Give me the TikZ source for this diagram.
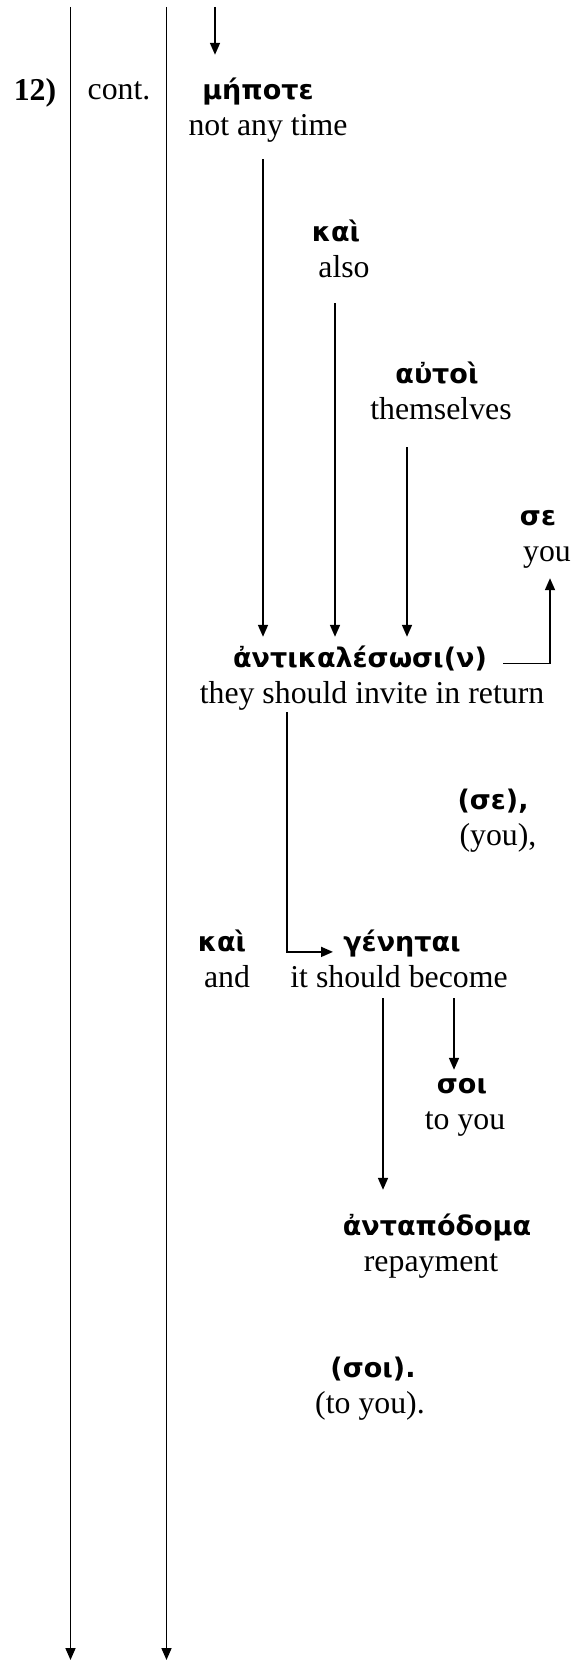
\documentclass[tikz,border=0pt]{standalone}
\usepackage{fontspec}
\setmainfont{Liberation Serif}
\newfontfamily\grk{DejaVu Sans}
\usetikzlibrary{arrows.meta}
\begin{document}
\begin{tikzpicture}[x=1pt,y=1pt,
  en/.style={font=\fontsize{31.8}{36}\selectfont, inner sep=0pt, text height=22pt, text depth=7pt, anchor=base},
  gr/.style={font=\grk\bfseries\fontsize{27}{32}\selectfont, inner sep=0pt, text height=22pt, text depth=7pt, anchor=base},
  arr/.style={-{Triangle[length=12pt,width=10pt]}, line width=1.7pt}]
\useasboundingbox (0,0) rectangle (575,-1661);
% columns
\coordinate (L1t) at (70.5,-7);   \coordinate (L1b) at (70.5,-1660);
\coordinate (L2t) at (166.5,-7);  \coordinate (L2b) at (166.5,-1660);
\coordinate (topA) at (215,-7);
\draw[arr] (L1t) -- (L1b);
\draw[arr] (L2t) -- (L2b);
% labels
\node[en] (n12) at (35,-101) {\textbf{12)}};
\node[en] (cont) at (119,-100) {cont.};
% words
\node[gr] (mep) at (258,-100) {μήποτε};
\node[en] (mepE) at (268,-136) {not any time};
\node[gr] (kai1) at (336,-241.9) {καὶ};
\node[en] (kai1E) at (344,-277.9) {also};
\node[gr] (aut) at (437,-383.8) {αὐτοὶ};
\node[en] (autE) at (441,-419.8) {themselves};
\node[gr] (se) at (538,-525.7) {σε};
\node[en] (seE) at (547,-561.7) {you};
\node[gr] (anti) at (360,-667.6) {ἀντικαλέσωσι(ν)};
\node[en] (antiE) at (372,-703.6) {they should invite in return};
\node[gr] (se2) at (493,-809.5) {(σε),};
\node[en] (se2E) at (498,-845.5) {(you),};
\node[gr] (kai2) at (222,-951.4) {καὶ};
\node[en] (kai2E) at (227,-987.4) {and};
\node[gr] (gen) at (402,-951.4) {γένηται};
\node[en] (genE) at (399,-987.4) {it should become};
\node[gr] (soi) at (462,-1093.3) {σοι};
\node[en] (soiE) at (465,-1129.3) {to you};
\node[gr] (antap) at (437,-1235.2) {ἀνταπόδομα};
\node[en] (antapE) at (431,-1271.2) {repayment};
\node[gr] (soi2) at (373,-1377.1) {(σοι).};
\node[en] (soi2E) at (370,-1413.1) {(to you).};
% connectors
\draw[arr] (topA) -- ([xshift=-43pt,yshift=23pt]mep.north);
\draw[arr] ([xshift=-5pt,yshift=-16pt]mepE.south) -- ([xshift=-97pt,yshift=8.6pt]anti.north);
\draw[arr] ([xshift=-9pt,yshift=-18pt]kai1E.south) -- ([xshift=-25pt,yshift=8.6pt]anti.north);
\draw[arr] ([xshift=-34pt,yshift=-20pt]autE.south) -- ([xshift=47pt,yshift=8.6pt]anti.north);
\draw[arr] ([xshift=143pt,yshift=4pt]anti.base) -| ([xshift=3pt,yshift=-9.3pt]seE.south);
\draw[arr] ([xshift=-85pt,yshift=-1.4pt]antiE.south) |- ([xshift=-69pt,yshift=-0.5pt]gen.base);
\draw[arr] ([xshift=-16pt,yshift=-3.6pt]genE.south) -- ([xshift=-54pt,yshift=23.2pt]antap.north);
\draw[arr] ([xshift=55pt,yshift=-3.6pt]genE.south) -- ([xshift=-8pt,yshift=1.3pt]soi.north);
\end{tikzpicture}
\end{document}
